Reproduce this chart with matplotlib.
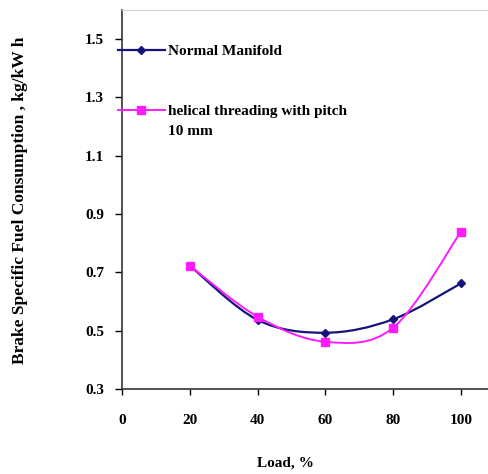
import numpy as np
import matplotlib
matplotlib.use("Agg")
import matplotlib.pyplot as plt
from matplotlib.path import Path
from matplotlib.patches import PathPatch

load = [20, 40, 60, 80, 100]
normal = [0.723, 0.537, 0.493, 0.539, 0.662]
helical = [0.723, 0.548, 0.462, 0.510, 0.839]
x_ticks = [0, 20, 40, 60, 80, 100]
y_ticks = [0.3, 0.5, 0.7, 0.9, 1.1, 1.3, 1.5]

plt.rcParams['font.family'] = ['Liberation Serif', 'DejaVu Serif']
plt.rcParams['font.weight'] = 'bold'

W, H = 489, 474
fig = plt.figure(figsize=(W/100, H/100), dpi=100)
ax = fig.add_axes([122/W, 1-389/H, (W-122)/W, (389-10)/H])


def smooth(ax, x, y, color, lw):
    x = np.asarray(x, float); y = np.asarray(y, float)
    n = len(x)
    verts = [(x[0], y[0])]
    codes = [Path.MOVETO]
    for i in range(n - 1):
        p0 = np.array([x[max(i-1, 0)], y[max(i-1, 0)]])
        p1 = np.array([x[i], y[i]])
        p2 = np.array([x[i+1], y[i+1]])
        p3 = np.array([x[min(i+2, n-1)], y[min(i+2, n-1)]])
        c1 = p1 + (p2 - p0) / 6
        c2 = p2 - (p3 - p1) / 6
        verts += [tuple(c1), tuple(c2), tuple(p2)]
        codes += [Path.CURVE4] * 3
    ax.add_patch(PathPatch(Path(verts, codes), fill=False, edgecolor=color, lw=lw, zorder=2))


navy = '#14147a'
mag = '#ff1aff'
smooth(ax, load, normal, navy, 1.6)
smooth(ax, load, helical, mag, 1.4)
ax.plot(load, normal, ls='none', marker='D', ms=4, color=navy, zorder=3)
ax.plot(load, helical, ls='none', marker='s', ms=5.5, color=mag, zorder=3)

h1, = ax.plot([], [], color=navy, lw=1.6, marker='D', ms=4)
h2, = ax.plot([], [], color=mag, lw=1.4, marker='s', ms=5.5)
lp = dict(loc='center left', frameon=False, handlelength=3.07, handletextpad=0.2,
          borderpad=0, borderaxespad=0, bbox_transform=fig.transFigure,
          prop={'family': 'Liberation Serif', 'weight': 'bold', 'size': 11})
leg1 = ax.legend([h1], ['Normal Manifold'], bbox_to_anchor=(118/W, 1-51/H), **lp)
ax.add_artist(leg1)
leg2 = ax.legend([h2], ['helical threading with pitch'], bbox_to_anchor=(118/W, 1-111/H), **lp)
fig.text(168/W, 1-131/H, '10 mm', ha='left', va='center', fontsize=11, fontweight='bold')

ax.set_xlim(0, 108.3)
ax.set_ylim(0.3, 1.6)
ax.set_xticks(x_ticks)
ax.set_xticklabels([str(v) for v in x_ticks])
ax.set_yticks(y_ticks)
ax.set_yticklabels([f'{v:.1f}' for v in y_ticks])
ax.tick_params(axis='x', direction='out', length=4, pad=14, labelsize=11, width=1)
ax.tick_params(axis='y', direction='out', length=5, pad=8, labelsize=11, width=1)
for lab in ax.get_xticklabels() + ax.get_yticklabels():
    lab.set_fontweight('bold')

ax.spines['right'].set_visible(False)
ax.spines['top'].set_color('#d0d0d0')
ax.spines['left'].set_color('#333333')
ax.spines['bottom'].set_color('#333333')
ax.spines['left'].set_linewidth(1.2)
ax.spines['bottom'].set_linewidth(1.2)

fig.text(285/W, 1-463/H, 'Load, %', ha='center', va='center', fontsize=11, fontweight='bold')
fig.text(20/W, 1-200/H, 'Brake Specific Fuel Consumption , kg/kW h', ha='center', va='center',
         rotation=90, fontsize=12.5, fontweight='bold')

fig.savefig('out.png', dpi=100)
